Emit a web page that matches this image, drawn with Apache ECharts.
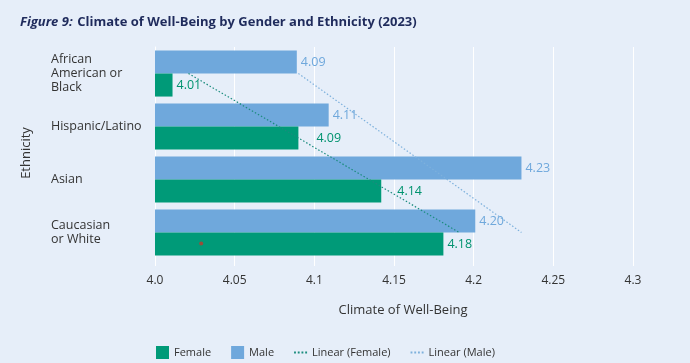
<!DOCTYPE html>
<html><head><meta charset="utf-8">
<script src="https://cdn.jsdelivr.net/npm/echarts@6/dist/echarts.min.js"></script>
<style>html,body{margin:0;padding:0;background:#E6EEF9;}#c{width:690px;height:363px;}</style>
</head><body><div id="c"></div>
<script>
const categories = ['African\nAmerican or\nBlack', 'Hispanic/Latino', 'Asian', 'Caucasian\nor White'];
const femaleValues = [4.011, 4.090, 4.142, 4.181];
const maleValues = [4.089, 4.109, 4.230, 4.201];
const trendFemale = [4.021, 4.191];   // endpoints at first and last category
const trendMale = [4.090, 4.230];
const xTicks = ['4.0', '4.05', '4.1', '4.15', '4.2', '4.25', '4.3'];
const strayDot = [4.029];

// label nudges (style only, not data)
const femaleLabelDist = [4, 18, 16, 4];

const font = 'Open Sans';
const dotted = 'path://M0,0h2v2h-2zM4,0h2v2h-2zM8,0h2v2h-2zM12,0h2v2h-2z';
const chart = echarts.init(document.getElementById('c'), null, {renderer: 'canvas'});
chart.setOption({
  backgroundColor: '#E6EEF9',
  animation: false,
  textStyle: {fontFamily: font},
  title: {
    left: 15, top: 8,
    text: '{i|Figure 9:} {b|Climate of Well-Being by Gender and Ethnicity (2023)}',
    textStyle: {
      rich: {
        i: {fontFamily: font, fontStyle: 'italic', fontSize: 13, color: '#1F2B5C'},
        b: {fontFamily: font, fontWeight: 'bold', fontSize: 13, color: '#1F2B5C'}
      }
    }
  },
  legend: {
    left: 151, top: 341,
    itemGap: 20, itemWidth: 13, itemHeight: 13,
    textStyle: {fontSize: 11, color: '#333', fontFamily: font},
    data: [
      {name: 'Female', icon: 'rect'},
      {name: 'Male', icon: 'rect'},
      {name: 'Linear (Female)', icon: dotted, itemStyle: {color: '#1B8C7E'}},
      {name: 'Linear (Male)', icon: dotted, itemStyle: {color: '#7DB0DC'}}
    ]
  },
  grid: {left: 155, right: 57, top: 47, bottom: 104},
  xAxis: {
    type: 'value', min: 4.0, max: 4.3, interval: 0.05,
    axisLine: {show: false},
    axisTick: {show: true, length: 7, lineStyle: {color: '#FFFFFF', width: 1}},
    splitLine: {show: true, lineStyle: {color: '#FFFFFF', width: 1}},
    axisLabel: {
      margin: 16, fontSize: 12, color: '#333',
      formatter: (v) => xTicks[Math.round((v - 4.0) / 0.05)]
    },
    name: 'Climate of Well-Being', nameLocation: 'middle', nameGap: 45,
    nameTextStyle: {fontSize: 13, color: '#333', padding: [0, 0, 0, 18]}
  },
  yAxis: [{
    type: 'category', data: categories, inverse: true,
    axisLine: {show: true, lineStyle: {color: '#FFFFFF'}},
    axisTick: {show: false},
    axisLabel: {align: 'left', margin: 104, fontSize: 12.5, color: '#333', lineHeight: 14},
    name: 'Ethnicity', nameLocation: 'middle', nameGap: 122, nameRotate: 90,
    nameTextStyle: {fontSize: 13, color: '#333'}
  }],
  series: [
    {
      name: 'Male', type: 'bar', data: maleValues,
      barGap: '0%', barCategoryGap: '13%',
      itemStyle: {color: '#6FA8DC'},
      label: {show: true, position: 'right', distance: 4, fontSize: 12.5, color: '#6FA8DC',
        formatter: (p) => p.value.toFixed(2)}
    },
    {
      name: 'Female', type: 'bar',
      data: femaleValues.map((v, i) => ({value: v, label: {distance: femaleLabelDist[i]}})),
      barGap: '0%', barCategoryGap: '13%',
      itemStyle: {color: '#009A78'},
      label: {show: true, position: 'right', distance: 4, fontSize: 12.5, color: '#00936F',
        formatter: (p) => p.value.toFixed(2)}
    },
    {
      name: 'Linear (Female)', type: 'line', symbol: 'none', z: 5,
      data: [[trendFemale[0], 0], [trendFemale[1], 3]],
      itemStyle: {color: '#1B8C7E'},
      lineStyle: {color: '#1B8C7E', width: 1.2, type: [1.5, 2]}
    },
    {
      name: 'Linear (Male)', type: 'line', symbol: 'none', z: 5,
      data: [[trendMale[0], 0], [trendMale[1], 3]],
      itemStyle: {color: '#7DB0DC'},
      lineStyle: {color: '#7DB0DC', width: 1.2, type: [1.5, 2]}
    },
    {
      name: 'dot', type: 'scatter', z: 6, symbolSize: 4, symbolOffset: [0, 11],
      data: [[strayDot[0], 3]],
      itemStyle: {color: '#C0392B'}, silent: true
    }
  ]
});
</script></body></html>
